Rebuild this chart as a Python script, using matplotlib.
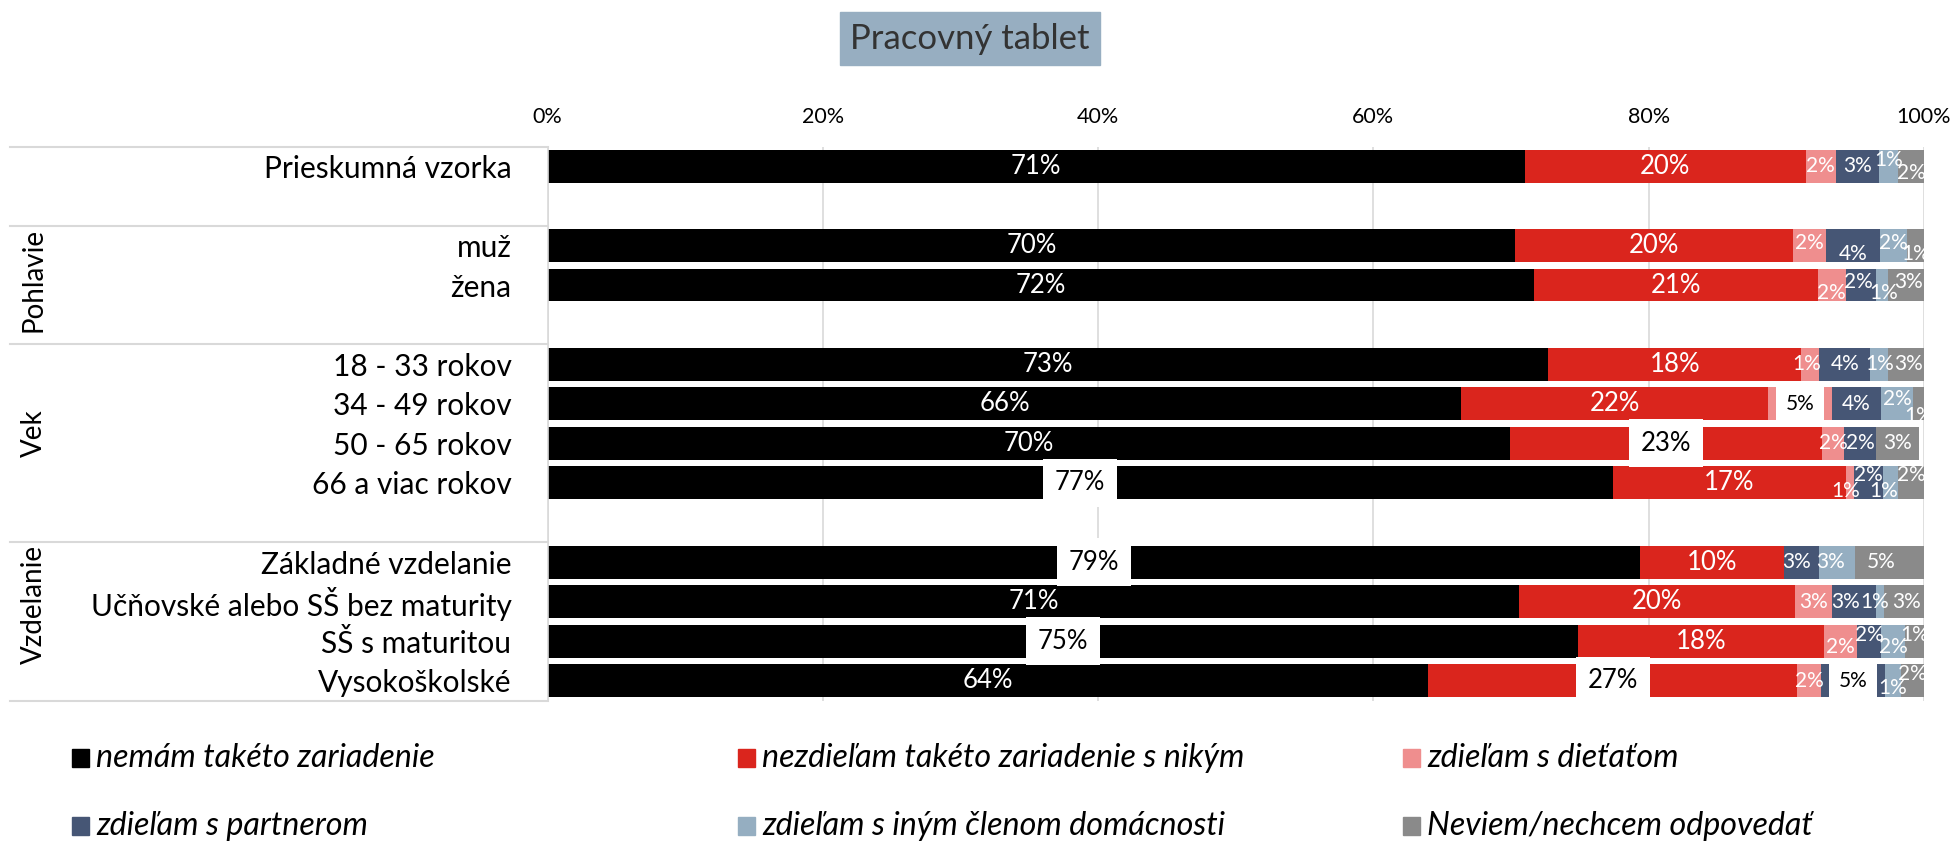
import numpy as np
import matplotlib
matplotlib.use('Agg')
import matplotlib.pyplot as plt
from matplotlib.patches import Rectangle
from matplotlib.lines import Line2D
import matplotlib.transforms as mtransforms

plt.rcParams['font.family'] = ['Lato', 'DejaVu Sans']

categories = ['Prieskumná vzorka', 'muž', 'žena', '18 - 33 rokov', '34 - 49 rokov',
              '50 - 65 rokov', '66 a viac rokov', 'Základné vzdelanie',
              'Učňovské alebo SŠ bez maturity', 'SŠ s maturitou', 'Vysokoškolské']
groups = ['Pohlavie', 'Vek', 'Vzdelanie']
series_names = ['nemám takéto zariadenie', 'nezdieľam takéto zariadenie s nikým',
                'zdieľam s dieťaťom', 'zdieľam s partnerom',
                'zdieľam s iným členom domácnosti', 'Neviem/nechcem odpovedať']

# shares in %, one value per category
nemam = [71.0, 70.3, 71.7, 72.7, 66.4, 69.9, 77.4, 79.4, 70.6, 74.9, 64.0]
nezdielam = [20.4, 20.2, 20.6, 18.4, 22.3, 22.7, 16.9, 10.4, 20.0, 17.8, 26.8]
dieta = [2.2, 2.4, 2.0, 1.3, 4.6, 1.6, 0.6, 0.0, 2.7, 2.4, 1.7]
partner = [3.1, 3.9, 2.2, 3.7, 3.6, 2.3, 2.1, 2.6, 3.2, 1.8, 4.7]
iny_clen = [1.4, 2.0, 0.9, 1.3, 2.3, 0.0, 1.1, 2.6, 0.6, 1.7, 1.1]
neviem = [1.9, 1.2, 2.6, 2.6, 0.8, 3.15, 1.9, 5.0, 2.9, 1.4, 1.7]

series = [nemam, nezdielam, dieta, partner, iny_clen, neviem]
colors = ['#000000', '#DA251D', '#EF8E8E', '#465675', '#95AEC1', '#8A8A8A']

# layout
row_pos = [0, 2, 3, 5, 6, 7, 8, 10, 11, 12, 13]
separators = [-0.5, 1.5, 4.5, 9.5, 13.5]
group_y = [2.87, 6.75, 11.08]
# manual label nudges: (category, series) -> (dx in %, dy in rows)
nudge = {
    (0, 4): (0, -0.165), (0, 5): (0, 0.17),
    (1, 2): (0, -0.06), (1, 3): (0, 0.22), (1, 4): (0, -0.06), (1, 5): (0, 0.22),
    (2, 2): (0, 0.2), (2, 3): (-0.2, -0.08), (2, 4): (0.1, 0.2), (2, 5): (0.2, -0.08),
    (3, 2): (-0.3, 0), (3, 5): (0.2, 0),
    (4, 4): (0, -0.13), (4, 5): (0, 0.3),
    (6, 2): (-0.3, 0.21), (6, 3): (0, -0.195), (6, 4): (-0.45, 0.21), (6, 5): (0, -0.195),
    (7, 3): (-0.36, 0), (7, 4): (-0.5, 0), (7, 5): (-0.6, 0),
    (8, 3): (-0.6, 0), (8, 4): (-0.4, 0), (8, 5): (0.2, 0),
    (9, 2): (0, 0.135), (9, 3): (0, -0.145), (9, 4): (0, 0.135), (9, 5): (0, -0.145),
    (10, 4): (0, 0.18), (10, 5): (0, -0.16),
}
boxed = {(4, 2), (5, 1), (6, 0), (7, 0), (9, 0), (10, 1), (10, 3)}

W, H = 1955, 842
fig = plt.figure(figsize=(W / 100, H / 100), dpi=100)
ax = fig.add_axes([547.5 / W, 1 - 700.6 / H, (1924 - 547.5) / W, (700.6 - 146.5) / H])

left = np.zeros(len(categories))
for s, (vals, col) in enumerate(zip(series, colors)):
    vals = np.array(vals)
    ax.barh(row_pos, vals, left=left, height=0.83, color=col, zorder=2)
    for i, v in enumerate(vals):
        if v <= 0:
            continue
        dx, dy = nudge.get((i, s), (0, 0))
        size = 18.5 if s < 2 else 15
        kw = dict(ha='center', va='center', fontsize=size, zorder=4)
        if (i, s) in boxed:
            kw['bbox'] = dict(boxstyle='square,pad=0.45', fc='white', ec='none')
            kw['color'] = 'black'
        else:
            kw['color'] = 'white'
        ax.text(left[i] + v / 2 + dx, row_pos[i] + dy, f'{int(v + 0.5)}%', **kw)
    left += vals

ax.set_xlim(0, 100)
ax.set_ylim(13.5, -0.5)
ax.xaxis.tick_top()
ax.set_xticks(range(0, 101, 20))
ax.set_xticklabels([f'{t}%' for t in range(0, 101, 20)], fontsize=15.5)
ax.tick_params(axis='x', length=0, pad=14)
ax.set_yticks(row_pos)
ax.set_yticklabels(categories, fontsize=21.5)
ax.tick_params(axis='y', length=0, pad=26)
ax.grid(axis='x', color='#D9D9D9', lw=1.2, zorder=0)
ax.set_axisbelow(True)
for sp in ['top', 'right', 'bottom']:
    ax.spines[sp].set_visible(False)
ax.spines['left'].set_color('#D9D9D9')
ax.spines['left'].set_linewidth(1.2)

blend = mtransforms.blended_transform_factory(fig.transFigure, ax.transData)
for y in separators:
    ax.add_line(Line2D([10 / W, 547.5 / W], [y, y], transform=blend, color='#D9D9D9',
                       lw=1.5, clip_on=False))
for g, y in zip(groups, group_y):
    ax.text(33.5 / W, y, g, transform=blend, rotation=90, ha='center', va='center',
            fontsize=20, clip_on=False)

# title in a filled box
fig.patches.append(Rectangle((840 / W, 1 - 65 / H), 260 / W, 53 / H,
                             transform=fig.transFigure, color='#97AEC1', figure=fig))
fig.text(970 / W, 1 - 39 / H, 'Pracovný tablet', ha='center', va='center', fontsize=25,
         color='#333333')

# legend, 3 columns x 2 rows
leg_x = [72, 738, 1403]
leg_y = [758, 826]
for k, (name, col) in enumerate(zip(series_names, colors)):
    x0 = leg_x[k % 3]
    y0 = leg_y[k // 3]
    fig.patches.append(Rectangle((x0 / W, 1 - (y0 + 9) / H), 17 / W, 18 / H,
                                 transform=fig.transFigure, color=col, figure=fig))
    fig.text((x0 + 24) / W, 1 - y0 / H, name, ha='left', va='center', fontsize=23.2,
             style='italic')

fig.savefig('out.png', dpi=100)
